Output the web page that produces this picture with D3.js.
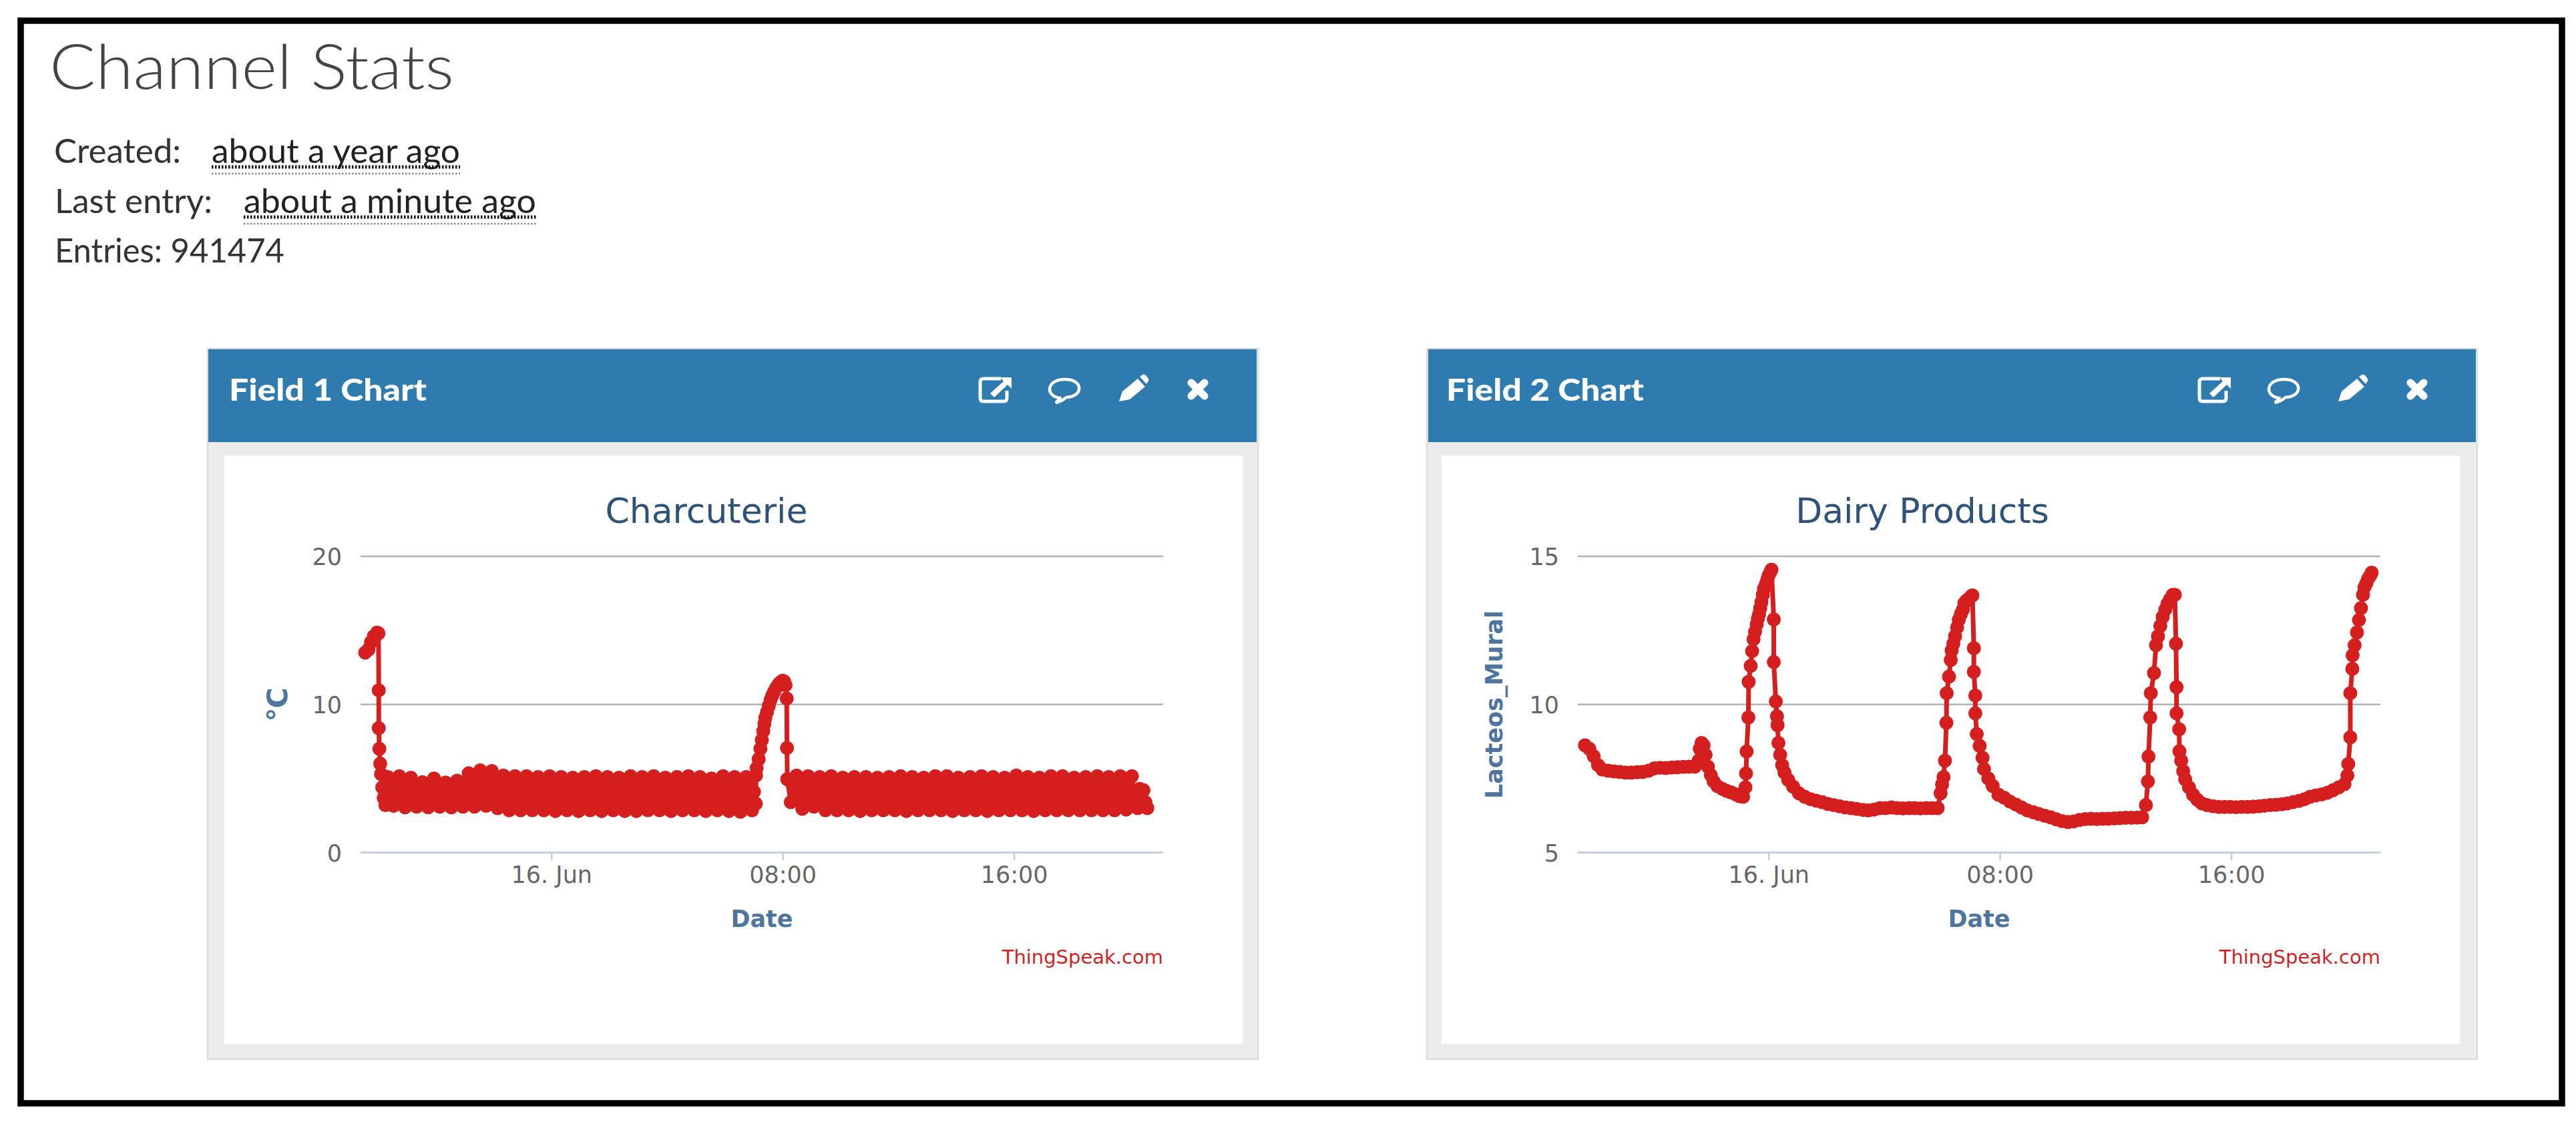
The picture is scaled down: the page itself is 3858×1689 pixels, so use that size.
<!DOCTYPE html>
<html><head><meta charset="utf-8">
<script src="https://cdn.jsdelivr.net/npm/d3@7"></script>
<style>html,body{margin:0;padding:0;background:#fff}svg{display:block}</style>
</head><body><svg id="c" width="3858" height="1689"></svg>
<script>
// ---------- data ----------
const panelHeads = ["Field 1 Chart","Field 2 Chart"];
const chartTitles = ["Charcuterie","Dairy Products"];
const yAxisTitles = ["℃","Lacteos_Mural"];
const timeTicks = [0,8,16];
const timeTickLabels = ["16. Jun","08:00","16:00"];
const charYTicks = [0,10,20];
const dairyYTicks = [5,10,15];
const bandStepHours = 1/15;

const charHeadHours = [-6.44,-6.33,-6.24,-6.14,-6.03,-5.98,-5.97,-5.97,-5.95,-5.92,-5.89,-5.85,-5.8,-5.74];
const charHeadTemps = [13.5,13.7,14.2,14.6,14.85,14.8,10.95,8.4,7.0,6.0,5.3,4.4,3.7,3.2];
const charBand1Start = -5.66;
const charBand1 = [
 5.1,3.6,4.65,3.15,4.1,3.3, 5.15,3.5,4.6,3.05,4.0,3.3, 5.05,3.6,4.6,3.1,4.1,3.3, 4.75,3.5,4.4,3.05,4.0,3.3,
 5.0,3.6,4.6,3.1,4.1,3.3, 4.72,3.5,4.4,3.05,4.0,3.3, 4.85,3.6,4.6,3.1,4.1,3.4, 5.35,3.6,4.9,3.1,4.2,3.4,
 5.55,3.7,4.95,3.15,4.2,3.4, 5.5,3.6,4.85,3.0,4.1,3.3, 5.2,3.5,4.65,2.85,4.0,3.2, 5.15,3.6,4.6,2.85,4.1,3.2,
 5.15,3.5,4.65,2.85,4.0,3.2, 5.1,3.6,4.6,2.85,4.1,3.2, 5.15,3.5,4.65,2.8,4.0,3.2, 5.1,3.6,4.6,2.85,4.1,3.2,
 5.05,3.5,4.65,2.8,4.0,3.2, 5.1,3.6,4.6,2.85,4.1,3.2, 5.15,3.5,4.65,2.8,4.0,3.2, 5.1,3.6,4.6,2.85,4.1,3.2,
 5.05,3.5,4.65,2.8,4.0,3.2, 5.15,3.6,4.6,2.8,4.1,3.2, 5.1,3.5,4.65,2.85,4.0,3.2, 5.15,3.6,4.6,2.85,4.1,3.2,
 5.05,3.5,4.65,2.8,4.0,3.2, 5.1,3.6,4.6,2.85,4.1,3.2, 5.15,3.5,4.65,2.85,4.0,3.2, 5.1,3.6,4.6,2.8,4.1,3.2,
 5.0,3.5,4.65,2.85,4.0,3.2, 5.15,3.6,4.6,2.8,4.1,3.2, 5.1,3.5,4.65,2.75,4.0,3.2, 5.1,3.6,4.5,2.85,4.1,3.3];
const charRiseHours = [7.08,7.1,7.17,7.23,7.28,7.33,7.37,7.4,7.46,7.52,7.58,7.64,7.7,7.77,7.84,7.9,7.96,8.0,8.05,8.1,8.14,8.15,8.16];
const charRiseTemps = [5.2,5.7,6.3,7.0,7.6,8.2,8.7,9.1,9.5,9.9,10.3,10.6,10.85,11.1,11.3,11.45,11.55,11.6,11.55,11.3,10.4,7.06,4.95];
const charBand2Start = 8.28;
const charBand2 = [
 3.4,4.6,3.6,5.2,4.1,4.85, 2.95,4.65,3.5,5.15,4.0,4.8, 3.1,4.6,3.6,5.1,4.1,3.2, 2.85,4.65,3.5,5.15,4.0,3.2,
 2.85,4.6,3.6,5.05,4.1,3.2, 2.85,4.65,3.5,5.1,4.0,3.2, 2.8,4.6,3.6,5.1,4.1,3.2, 2.85,4.65,3.5,5.05,4.0,3.2,
 2.85,4.6,3.6,5.1,4.1,3.2, 2.85,4.65,3.5,5.15,4.0,3.2, 2.8,4.6,3.6,5.1,4.1,3.2, 2.85,4.65,3.5,5.05,4.0,3.2,
 2.85,4.6,3.6,5.15,4.1,3.2, 2.85,4.65,3.5,5.15,4.0,3.2, 2.8,4.6,3.6,5.05,4.1,3.2, 2.85,4.65,3.5,5.1,4.0,3.2,
 2.85,4.6,3.6,5.15,4.1,3.2, 2.8,4.65,3.5,5.1,4.0,3.2, 2.85,4.6,3.6,5.05,4.1,3.2, 2.85,4.65,3.5,5.2,4.0,3.2,
 2.85,4.6,3.6,5.1,4.1,3.2, 2.8,4.65,3.5,5.05,4.0,3.2, 2.85,4.6,3.6,5.15,4.1,3.2, 2.85,4.65,3.5,5.15,4.0,3.2,
 2.85,4.6,3.6,5.05,4.1,3.2, 2.85,4.65,3.5,5.1,4.0,3.2, 2.85,4.6,3.6,5.15,4.1,3.2, 2.85,4.65,3.5,5.1,4.0,3.2,
 2.85,4.6,3.6,5.15,4.1,3.2, 2.9,4.65,3.5,5.15,4.0,3.2, 3.0,4.3,3.6,4.2,3.4,3.0];

const dairyHours = [-6.35,-6.2,-6.05,-5.9,-5.75,-5.55,-5.35,-5.15,-4.95,-4.75,-4.55,-4.35,-4.15,-3.95,-3.75,-3.55,-3.35,-3.15,-2.95,-2.75,-2.55,
 -2.42,-2.38,-2.32,-2.25,-2.18,-2.1,-2.0,-1.9,-1.77,-1.6,-1.45,-1.3,-1.15,-1.0,-0.88,
 -0.8,-0.78,-0.76,-0.7,-0.69,-0.62,-0.57,-0.52,-0.47,-0.41,-0.37,-0.33,-0.29,-0.25,-0.2,-0.16,-0.1,-0.05,0,0.05,0.1,
 0.18,0.18,0.25,0.29,0.31,0.34,0.4,0.47,0.55,0.68,0.85,1.05,1.25,1.45,1.65,1.85,2.05,2.25,2.45,2.65,2.85,3.05,3.25,3.45,3.65,3.85,4.05,4.25,4.45,4.65,4.85,5.05,5.25,5.45,5.65,5.85,
 5.95,6.0,6.05,6.1,6.15,6.16,6.24,6.3,6.33,6.39,6.45,6.52,6.58,6.65,6.72,6.77,6.84,6.9,7.01,7.05,
 7.1,7.1,7.15,7.15,7.2,7.3,7.4,7.45,7.6,7.75,7.95,8.15,8.35,8.55,8.75,8.95,9.15,9.35,9.55,9.75,9.95,10.15,10.35,10.55,10.75,10.95,11.15,11.35,11.55,11.75,11.95,12.15,12.35,12.55,12.75,12.92,
 13.05,13.12,13.14,13.2,13.22,13.33,13.4,13.47,13.55,13.63,13.72,13.8,13.88,13.98,14.05,
 14.09,14.11,14.11,14.2,14.21,14.27,14.34,14.41,14.54,14.68,14.83,14.98,15.17,15.37,15.57,15.77,15.97,16.17,16.36,16.56,16.76,16.96,17.15,17.35,17.55,17.75,17.94,18.14,18.34,18.54,18.73,18.93,19.13,19.33,19.52,19.72,19.92,
 20.02,20.05,20.12,20.12,20.19,20.2,20.27,20.35,20.42,20.49,20.56,20.61,20.68,20.74,20.81,20.86];
const dairyValues = [8.62,8.5,8.25,7.95,7.8,7.76,7.74,7.72,7.7,7.7,7.71,7.72,7.76,7.84,7.86,7.85,7.87,7.88,7.89,7.9,7.9,
 8.1,8.5,8.7,8.62,8.3,7.9,7.62,7.4,7.24,7.15,7.08,7.03,6.97,6.9,6.88,
 7.2,7.67,8.41,9.56,10.76,11.3,11.8,12.2,12.45,12.7,12.9,13.05,13.25,13.45,13.7,13.9,14.05,14.2,14.35,14.45,14.55,
 12.87,11.43,10.1,9.6,9.3,8.7,8.3,7.95,7.7,7.45,7.22,7.0,6.88,6.8,6.75,6.7,6.64,6.6,6.56,6.52,6.5,6.47,6.44,6.42,6.45,6.5,6.5,6.52,6.5,6.49,6.5,6.5,6.49,6.5,6.5,6.5,
 7.0,7.3,7.55,8.1,9.38,10.38,10.94,11.5,11.82,12.05,12.3,12.6,12.86,13.05,13.2,13.42,13.5,13.55,13.65,13.68,
 11.9,11.1,10.3,9.7,9.0,8.6,8.2,7.82,7.5,7.25,6.95,6.85,6.72,6.62,6.52,6.42,6.36,6.3,6.24,6.19,6.12,6.06,6.03,6.05,6.1,6.13,6.14,6.13,6.14,6.14,6.15,6.16,6.17,6.17,6.18,6.19,
 6.6,7.4,8.24,9.56,10.38,11.06,12.0,12.3,12.65,12.95,13.2,13.4,13.55,13.7,13.7,
 12.05,10.58,9.7,9.16,8.42,8.1,7.75,7.47,7.2,6.95,6.78,6.66,6.6,6.56,6.54,6.54,6.54,6.53,6.54,6.54,6.55,6.56,6.58,6.6,6.61,6.63,6.66,6.7,6.74,6.8,6.88,6.93,6.96,7.02,7.1,7.2,7.31,
 7.6,7.99,8.89,10.38,11.2,11.66,12.0,12.43,12.85,13.25,13.7,13.96,14.1,14.25,14.35,14.45];

function bandSeries(start, values){ return values.map((v,i)=>[start+i*bandStepHours, v]); }
function zipSeries(h, v){ return h.map((t,i)=>[t, v[i]]); }
const charSeries = [...zipSeries(charHeadHours,charHeadTemps), ...bandSeries(charBand1Start,charBand1),
  ...zipSeries(charRiseHours,charRiseTemps), ...bandSeries(charBand2Start,charBand2)];
const dairySeries = zipSeries(dairyHours,dairyValues);

// ---------- drawing ----------
const svg = d3.select("#c");
const RED="#d51f1f", BLUE="#2e7bb0", SANS="'DejaVu Sans',sans-serif", LATO="Lato,sans-serif";
svg.append("rect").attr("width",3858).attr("height",1689).attr("fill","#fff");
svg.append("rect").attr("x",31).attr("y",31).attr("width",3806).attr("height",1621)
  .attr("fill","#fff").attr("stroke","#000").attr("stroke-width",9.5);

svg.append("text").text("Channel Stats").attr("x",74).attr("y",133).attr("font-family",LATO).attr("font-weight",300)
  .attr("font-size",92).attr("fill","#444").attr("textLength",606).attr("lengthAdjust","spacingAndGlyphs");

const statRows=[
 {label:"Created:",lx:81,lw:190,value:"about a year ago",vx:317,vw:372,y:244},
 {label:"Last entry:",lx:82,lw:236,value:"about a minute ago",vx:365,vw:438,y:319},
 {label:"Entries: 941474",lx:82,lw:344,value:null,y:393}];
statRows.forEach(r=>{
  svg.append("text").text(r.label).attr("x",r.lx).attr("y",r.y).attr("font-family",LATO).attr("font-size",50)
    .attr("fill","#333").attr("textLength",r.lw).attr("lengthAdjust","spacingAndGlyphs");
  if(r.value){
    svg.append("text").text(r.value).attr("x",r.vx).attr("y",r.y).attr("font-family",LATO).attr("font-size",50)
      .attr("fill","#222").attr("textLength",r.vw).attr("lengthAdjust","spacingAndGlyphs");
    svg.append("line").attr("x1",r.vx).attr("x2",r.vx+r.vw).attr("y1",r.y+6).attr("y2",r.y+6)
      .attr("stroke","#111").attr("stroke-width",5).attr("stroke-dasharray","2.5 2.5");
    svg.append("line").attr("x1",r.vx).attr("x2",r.vx+r.vw).attr("y1",r.y+16).attr("y2",r.y+16)
      .attr("stroke","#888").attr("stroke-width",2.5).attr("stroke-dasharray","2.5 2.5");
  }
});

const panels=[
 {o:[310,1885],h:[312,1882],w:[336,1861],plot:[540,1742],titleX:1058,yt:charYTicks,yd:[0,20],series:charSeries,headX:343,yTitleX:418,yTitleSize:42},
 {o:[2136,3711],h:[2139,3708],w:[2159,3684],plot:[2363,3565],titleX:2879,yt:dairyYTicks,yd:[5,15],series:dairySeries,headX:2166,yTitleX:2238,yTitleSize:35}];

function icons(g,r){
  const y=583;
  const a=g.append("g").attr("transform",`translate(${r-391},${y})`);
  a.append("path").attr("d","M8,-16H-18Q-23,-16 -23,-11V13Q-23,18 -18,18H12Q17,18 17,13V2").attr("fill","none").attr("stroke","#fff").attr("stroke-width",5);
  a.append("path").attr("d","M-8,6L12,-12L7,-18H24V-1L18,-7L-2,12Z").attr("fill","#fff");
  const c=g.append("g").attr("transform",`translate(${r-287},${y})`);
  c.append("path").attr("d","M-8,13C-30,10 -28,-15 0,-15C28,-15 28,11 2,12C-3,16 -9,19 -14,20C-11,18 -9,15 -8,13Z").attr("fill","none").attr("stroke","#fff").attr("stroke-width",4.5);
  const p=g.append("g").attr("transform",`translate(${r-186},${y})`);
  p.append("path").attr("d","M-20,18L-15,3L8,-16L19,-4L-4,15Z M11,-19L15,-22Q18,-23 20,-21L24,-16Q25,-13 23,-11L21,-8Z").attr("fill","#fff");
  const t=g.append("g").attr("transform",`translate(${r-88},${y})`);
  t.append("path").attr("d","M-10,-10L10,10M10,-10L-10,10").attr("stroke","#fff").attr("stroke-width",11).attr("stroke-linecap","round");
}

panels.forEach((p,i)=>{
  const g=svg.append("g");
  g.append("rect").attr("x",p.o[0]+1).attr("y",522).attr("width",p.o[1]-p.o[0]-2).attr("height",1064)
    .attr("fill","#ececec").attr("stroke","#dcdcdc").attr("stroke-width",2.5);
  g.append("rect").attr("x",p.h[0]).attr("y",523).attr("width",p.h[1]-p.h[0]).attr("height",139).attr("fill",BLUE);
  g.append("rect").attr("x",p.w[0]).attr("y",682).attr("width",p.w[1]-p.w[0]).attr("height",881).attr("fill","#fff");
  g.append("text").text(panelHeads[i]).attr("x",p.headX).attr("y",600).attr("font-family",LATO).attr("font-weight",900)
    .attr("font-size",46).attr("fill","#fff").attr("textLength",296).attr("lengthAdjust","spacingAndGlyphs");
  icons(g,p.h[1]);

  g.append("text").text(chartTitles[i]).attr("x",p.titleX).attr("y",783).attr("text-anchor","middle")
    .attr("font-family",SANS).attr("font-size",52).attr("fill","#2f5278");

  const x=d3.scaleLinear().domain([-6.6,21.16]).range(p.plot);
  const y=d3.scaleLinear().domain(p.yd).range([1276.5,833]);

  const yAxis=d3.axisLeft(y).tickValues(p.yt).tickSize(0).tickPadding(0);
  const ya=g.append("g").attr("transform",`translate(${p.plot[0]-28},0)`).call(yAxis);
  ya.select(".domain").remove();
  ya.selectAll("text").attr("font-family",SANS).attr("font-size",35).attr("fill","#666").attr("dy","0.36em");
  g.append("g").selectAll("line").data(p.yt.slice(1)).join("line")
    .attr("x1",p.plot[0]).attr("x2",p.plot[1]).attr("y1",d=>y(d)).attr("y2",d=>y(d))
    .attr("stroke","#b4b4b4").attr("stroke-width",2.5);

  const xAxis=d3.axisBottom(x).tickValues(timeTicks).tickFormat((d,k)=>timeTickLabels[k]).tickSize(12).tickPadding(9);
  const xa=g.append("g").attr("transform","translate(0,1276.5)").call(xAxis);
  xa.select(".domain").attr("stroke","#c0d0e0").attr("stroke-width",3).attr("d",`M${p.plot[0]},0H${p.plot[1]}`);
  xa.selectAll("line").attr("stroke","#c0d0e0").attr("stroke-width",2.5);
  xa.selectAll("text").attr("font-family",SANS).attr("font-size",35).attr("fill","#666");

  const line=d3.line().x(d=>x(d[0])).y(d=>y(d[1]));
  g.append("path").attr("d",line(p.series)).attr("fill","none").attr("stroke",RED).attr("stroke-width",7).attr("stroke-linejoin","round");
  g.append("g").selectAll("circle").data(p.series).join("circle")
    .attr("cx",d=>x(d[0])).attr("cy",d=>y(d[1])).attr("r",10.5).attr("fill",RED);

  g.append("text").text("Date").attr("x",(p.plot[0]+p.plot[1])/2).attr("y",1388).attr("text-anchor","middle")
    .attr("font-family",SANS).attr("font-weight",700).attr("font-size",35).attr("fill","#4d759e");
  g.append("text").text("ThingSpeak.com").attr("x",p.plot[1]).attr("y",1443).attr("text-anchor","end")
    .attr("font-family",SANS).attr("font-size",29).attr("fill",RED);
  g.append("text").text(yAxisTitles[i]).attr("transform",`translate(${p.yTitleX+12},1055) rotate(-90)`).attr("text-anchor","middle")
    .attr("font-family",SANS).attr("font-weight",700).attr("font-size",p.yTitleSize).attr("fill","#4d759e");
});
</script></body></html>
